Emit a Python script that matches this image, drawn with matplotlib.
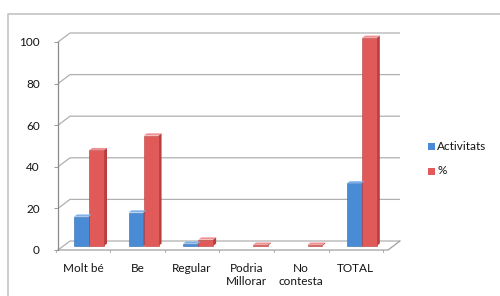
import matplotlib
matplotlib.use("Agg")
import matplotlib.pyplot as plt
from matplotlib.patches import Polygon, Rectangle
from matplotlib.lines import Line2D

categories = ["Molt bé", "Be", "Regular", "Podria\nMillorar", "No\ncontesta", "TOTAL"]
activitats = [14, 16, 1, 0, 0, 30]
percent = [46, 53, 3, 0.5, 0.5, 100]
yticks = [0, 20, 40, 60, 80, 100]
series_names = ["Activitats", "%"]

plt.rcParams['font.family'] = ['Lato', 'DejaVu Sans']

W, H = 500, 296
fig = plt.figure(figsize=(W / 100, H / 100), dpi=100)
fig.patch.set_facecolor("white")

left_px, right_px, bottom_px, top_px = 58, 388, 250, 42
ax = fig.add_axes([left_px / W, 1 - bottom_px / H, (right_px - left_px) / W, (bottom_px - top_px) / H])
ax.set_facecolor("none")
xl, xr = -0.458, 5.59
ax.set_xlim(xl, xr)
ax.set_ylim(0, 100)
for s in ax.spines.values():
    s.set_visible(False)

px_x = (xr - xl) / (right_px - left_px)
px_y = 100 / (bottom_px - top_px)
bx, by = 12 * px_x, 9 * px_y
mx, my = 6 * px_x, 4.2 * px_y
tx, ty = 3 * px_x, 2.2 * px_y

grid_c = "#b0b0b0"
for v in yticks:
    ax.plot([xl, xl + bx, xr + bx], [v, v + by, v + by], color=grid_c, lw=0.9,
            solid_capstyle="butt", clip_on=False, zorder=1)
ax.plot([xl, xr, xr + bx], [0, 0, by], color="#a0a0a0", lw=0.9, clip_on=False, zorder=2)
ax.plot([xl, xl], [0, 100], color="#8a8a8a", lw=0.9, clip_on=False, zorder=2)

txt_c = "#141414"
ax.set_yticks(yticks)
ax.set_yticklabels([str(v) for v in yticks])
ax.tick_params(axis="y", length=3, width=0.6, color="#8a8a8a", pad=10,
               labelsize=8.5, labelcolor=txt_c)
ax.set_xticks(range(len(categories)))
ax.set_xticklabels(categories, linespacing=1.25)
ax.tick_params(axis="x", length=0, pad=9, labelsize=8.5, labelcolor=txt_c)
for b in [i + 0.5 for i in range(-1, len(categories))]:
    ax.plot([b, b], [0, -1.2], color="#a0a0a0", lw=0.6, clip_on=False, zorder=2)

colors = {"Activitats": ("#4a8bd6", "#2f69ad", "#7fb0e8"),
          "%": ("#e05a5a", "#b83d3d", "#f09090")}
w = 0.27
offs = {"Activitats": -0.14, "%": 0.14}


def bar3d(xc, val, name):
    face, side, top = colors[name]
    x0 = xc - w / 2 + mx
    y0 = my
    h = val
    if h > 0:
        ax.add_patch(Rectangle((x0, y0), w, h, facecolor=face, edgecolor=side,
                               lw=0.4, zorder=5, clip_on=False))
        ax.add_patch(Polygon([(x0 + w, y0), (x0 + w + tx, y0 + ty), (x0 + w + tx, y0 + h + ty),
                              (x0 + w, y0 + h)], closed=True, facecolor=side, edgecolor="none",
                             zorder=4, clip_on=False))
        ax.add_patch(Polygon([(x0, y0 + h), (x0 + w, y0 + h), (x0 + w + tx, y0 + h + ty),
                              (x0 + tx, y0 + h + ty)], closed=True, facecolor=top,
                             edgecolor="none", zorder=6, clip_on=False))


for name, vals in (("Activitats", activitats), ("%", percent)):
    for i, v in enumerate(vals):
        bar3d(i + offs[name], v, name)

for k, name in enumerate(series_names):
    yy = 1 - (146 + 25 * k) / H
    fig.add_artist(Rectangle((428 / W, yy - 3.5 / H), 7 / W, 7 / H, transform=fig.transFigure,
                             facecolor=colors[name][0], edgecolor="none"))
    fig.text(437 / W, yy, name, fontsize=8.5, color=txt_c, va="center", ha="left")

fig.add_artist(Line2D([8 / W, 8 / W, 1.0], [0, 1 - 14 / H, 1 - 14 / H], transform=fig.transFigure,
                      color="#c4c4c4", lw=1.2))

fig.savefig("out.png", dpi=100, facecolor="white")
